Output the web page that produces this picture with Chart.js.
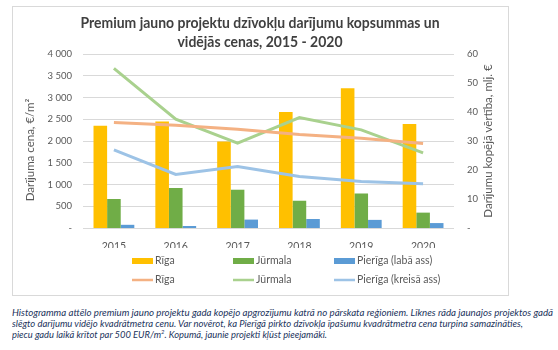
<!DOCTYPE html>
<html>
<head>
<meta charset="utf-8">
<script src="https://cdn.jsdelivr.net/npm/chart.js@4"></script>
<style>
  body { margin: 0; background: #fff; width: 558px; height: 350px; position: relative; overflow: hidden; }
  #box { position: absolute; left: 12px; top: 6px; width: 495px; height: 288px; border: 1px solid #d9d9d9; }
  #caption { position: absolute; left: 12px; top: 308px; font-family: Lato, sans-serif; font-style: italic; font-size: 9.6px; color: #22335c; }
  #caption div { white-space: nowrap; width: max-content; height: 10.8px; line-height: 10.8px; transform-origin: 0 50%; }
</style>
</head>
<body>
<div id="box"><canvas id="chart" width="495" height="288"></canvas></div>
<div id="caption">
  <div data-w="541">Histogramma attēlo premium jauno projektu gada kopējo apgrozījumu katrā no pārskata reģioniem. Līknes rāda jaunajos projektos gadā</div>
  <div data-w="511">slēgto darījumu vidējo kvadrātmetra cenu. Var novērot, ka Pierīgā pirkto dzīvokļa īpašumu kvadrātmetra cena turpina samazināties,</div>
  <div data-w="315">piecu gadu laikā krītot par 500 EUR/m<sup style="font-size:6px; line-height:0">2</sup>. Kopumā, jaunie projekti kļūst pieejamāki.</div>
</div>
<script>
// Premium jauno projektu darījumi 2015 - 2020

const years = ['2015', '2016', '2017', '2018', '2019', '2020'];

// kopsummas, mlj. € (labā ass)
const rigaSum = [35.3, 36.7, 29.8, 40.0, 48.2, 35.9];
const jurmalaSum = [10.0, 13.8, 13.2, 9.4, 11.9, 5.3];
const pierigaSum = [1.1, 0.7, 2.9, 3.1, 2.8, 1.7];

// vidējās cenas, €/m² (kreisā ass)
const rigaPrice = [2424, 2363, 2271, 2149, 2065, 1943];
const jurmalaPrice = [3671, 2501, 1950, 2539, 2256, 1728];
const pierigaPrice = [1797, 1231, 1415, 1185, 1071, 1017];

const titleLines = ['Premium jauno projektu dzīvokļu darījumu kopsummas un', 'vidējās cenas, 2015 - 2020'];
const leftTitle = 'Darījuma cena, €/m²';
const rightTitle = 'Darījumu kopējā vērtība, mlj. €';

const FONT = 'Lato, "Open Sans", sans-serif';
const GREY = '#595959';

function fmtThousands(v) {
    if (v === 0) return '-';
    return String(v).replace(/\B(?=(\d{3})+(?!\d))/g, ' ');
}

const overlay = {
    id: 'overlay',
    afterDraw(chart) {
        const ctx = chart.ctx;
        ctx.save();

        // title
        ctx.fillStyle = '#404040';
        ctx.font = 'bold 14.5px ' + FONT;
        ctx.textBaseline = 'middle';
        ctx.textAlign = 'center';
        const sx = Math.min(1, 359 / ctx.measureText(titleLines[0]).width);
        titleLines.forEach((t, i) => {
            ctx.save();
            ctx.translate(247, 16 + i * 19);
            ctx.scale(sx, 1);
            ctx.fillText(t, 0, 0);
            ctx.restore();
        });

        // axis titles
        ctx.fillStyle = GREY;
        ctx.font = '11.5px ' + FONT;
        ctx.save();
        ctx.translate(17, 143);
        ctx.rotate(-Math.PI / 2);
        ctx.fillText(leftTitle, 0, 0);
        ctx.restore();
        ctx.save();
        ctx.translate(475, 134);
        ctx.rotate(-Math.PI / 2);
        ctx.fillText(rightTitle, 0, 0);
        ctx.restore();

        // legend, 3 columns x 2 rows
        const colX = [119, 220, 321];
        const rowY = [254, 273];
        ctx.font = '10.5px ' + FONT;
        ctx.textAlign = 'left';
        chart.data.datasets.forEach((ds, i) => {
            const x = colX[i % 3];
            const y = rowY[Math.floor(i / 3)];
            if (ds.type === 'line') {
                ctx.strokeStyle = ds.borderColor;
                ctx.lineWidth = 2.5;
                ctx.beginPath();
                ctx.moveTo(x, y);
                ctx.lineTo(x + 21, y);
                ctx.stroke();
            } else {
                ctx.fillStyle = ds.backgroundColor;
                ctx.fillRect(x, y - 3, 21, 6);
            }
            ctx.fillStyle = GREY;
            ctx.fillText(ds.label, x + 23, y);
        });
        ctx.restore();
    }
};

const ctx = document.getElementById('chart').getContext('2d');

new Chart(ctx, {
    data: {
        labels: years,
        datasets: [
            { type: 'bar', label: 'Rīga', data: rigaSum, backgroundColor: '#ffc000', yAxisID: 'y1', order: 2 },
            { type: 'bar', label: 'Jūrmala', data: jurmalaSum, backgroundColor: '#70ad47', yAxisID: 'y1', order: 2 },
            { type: 'bar', label: 'Pierīga (labā ass)', data: pierigaSum, backgroundColor: '#5b9bd5', yAxisID: 'y1', order: 2 },
            { type: 'line', label: 'Rīga', data: rigaPrice, borderColor: '#f4b183', borderWidth: 3, pointRadius: 0, tension: 0, yAxisID: 'y', order: 1 },
            { type: 'line', label: 'Jūrmala', data: jurmalaPrice, borderColor: '#a9d18e', borderWidth: 3, pointRadius: 0, tension: 0, yAxisID: 'y', order: 1 },
            { type: 'line', label: 'Pierīga (kreisā ass)', data: pierigaPrice, borderColor: '#9dc3e6', borderWidth: 3, pointRadius: 0, tension: 0, yAxisID: 'y', order: 1 }
        ]
    },
    options: {
        responsive: false,
        animation: false,
        devicePixelRatio: 1,
        layout: { padding: { top: 47, bottom: 47, left: 0, right: 0 } },
        datasets: {
            bar: { categoryPercentage: 0.66, barPercentage: 1.0 }
        },
        plugins: {
            legend: { display: false },
            title: { display: false },
            tooltip: { enabled: false }
        },
        scales: {
            x: {
                offset: true,
                grid: { display: false },
                border: { display: false },
                ticks: { color: GREY, font: { family: FONT, size: 10.5 }, padding: 4 },
                afterFit: s => { s.height = 20; }
            },
            y: {
                position: 'left',
                min: 0,
                max: 4000,
                ticks: {
                    stepSize: 500,
                    color: GREY,
                    font: { family: FONT, size: 9.5 },
                    padding: 11,
                    callback: v => fmtThousands(v)
                },
                grid: { color: '#d9d9d9', lineWidth: 1, drawTicks: false },
                border: { display: false },
                afterFit: s => { s.width = 70; }
            },
            y1: {
                position: 'right',
                min: 0,
                max: 60,
                ticks: {
                    stepSize: 10,
                    color: GREY,
                    font: { family: FONT, size: 9.5 },
                    padding: 13,
                    callback: v => (v === 0 ? '-' : v)
                },
                grid: { display: false, drawTicks: false },
                border: { display: false },
                afterFit: s => { s.width = 54; }
            }
        }
    },
    plugins: [overlay]
});

// fit caption lines to the widths in the original
document.querySelectorAll('#caption div').forEach(d => {
    const w = d.getBoundingClientRect().width;
    const target = parseFloat(d.dataset.w);
    d.style.transform = 'scaleX(' + (target / w) + ')';
});
</script>
</body>
</html>
